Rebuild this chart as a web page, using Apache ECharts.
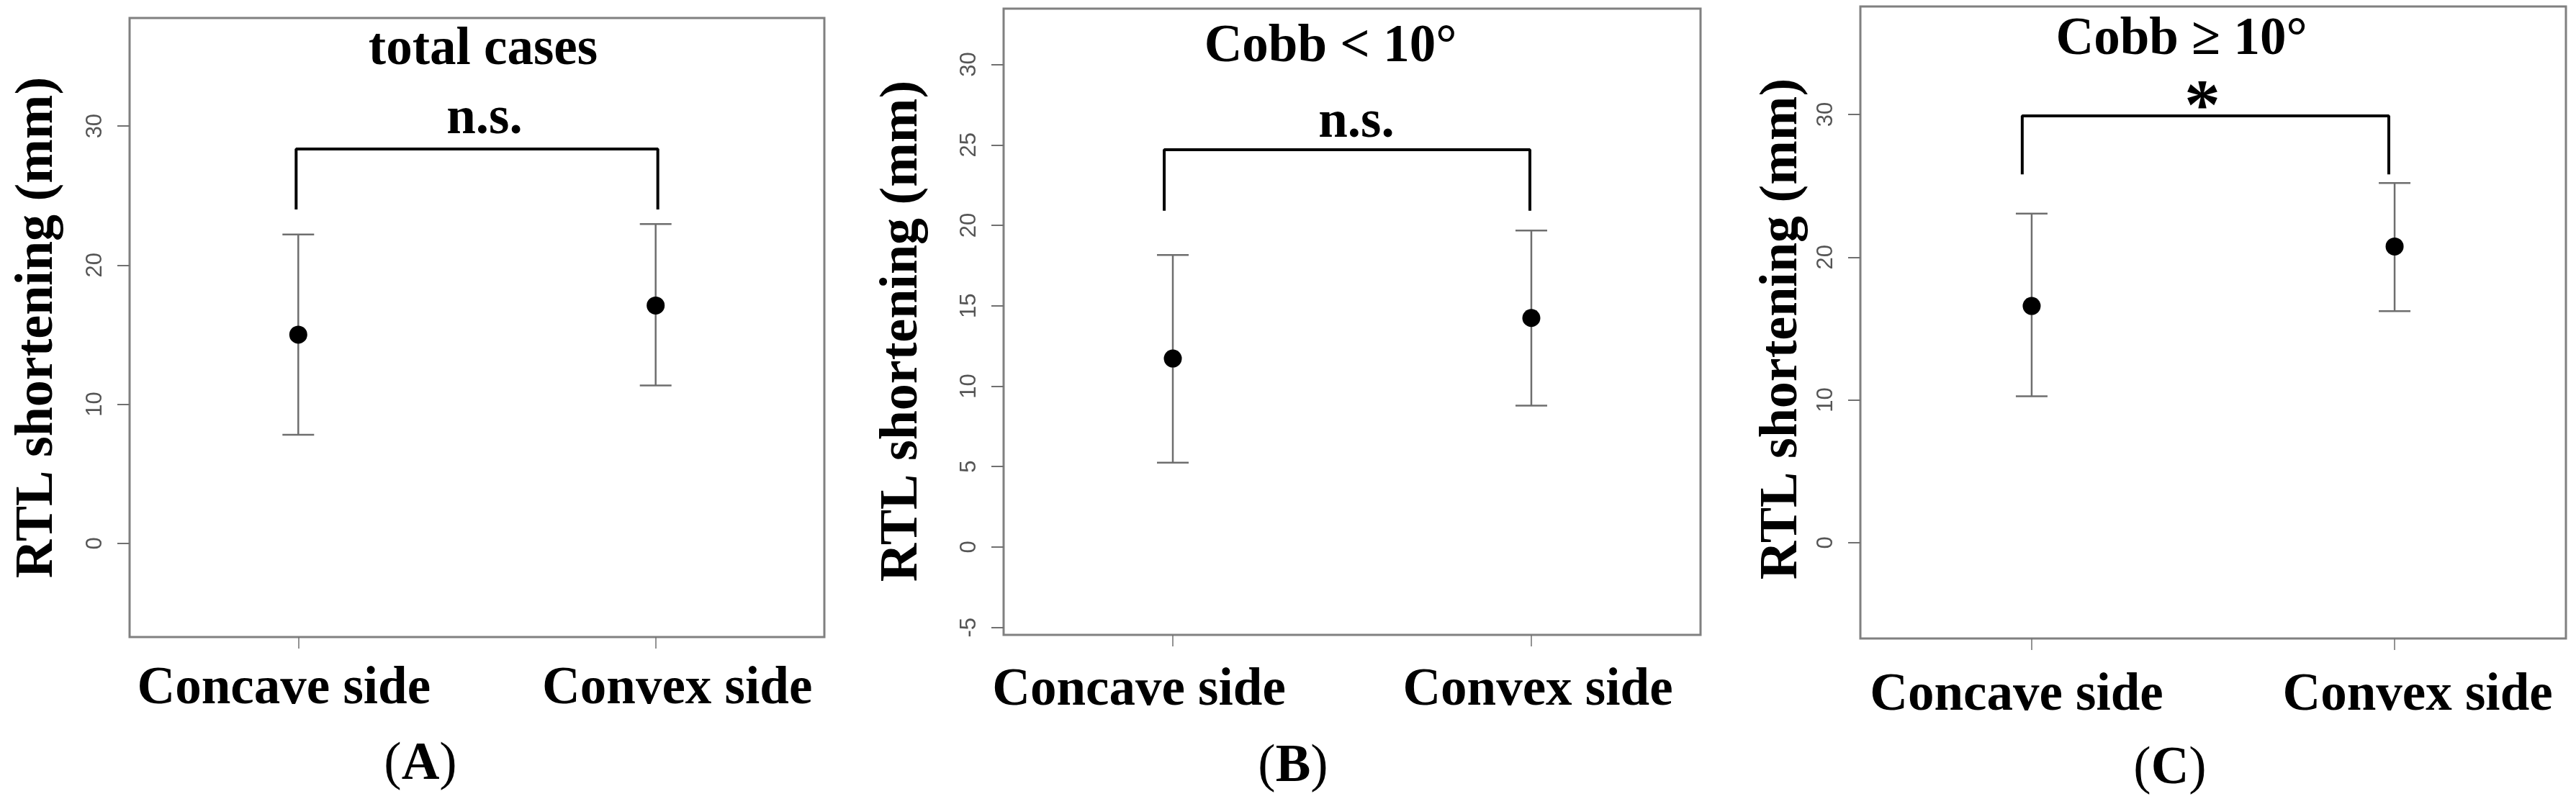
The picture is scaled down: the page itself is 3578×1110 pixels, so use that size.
<!DOCTYPE html>
<html>
<head>
<meta charset="utf-8">
<script src="https://cdn.jsdelivr.net/npm/echarts@6.0.0/dist/echarts.min.js"></script>
<style>
  html, body { margin: 0; padding: 0; background: #fff; }
  #chart { width: 3578px; height: 1110px; }
</style>
</head>
<body>
<div id="chart"></div>
<script>
// categories and their x positions (R style: xlim 0.6 - 2.4)
const categories = ['Concave side', 'Convex side'];
const xPos = [1, 2];
const panelLetters = ['A', 'B', 'C'];
const panelTitles = ['total cases', 'Cobb < 10°', 'Cobb ≥ 10°'];
const sigMarks = ['n.s.', 'n.s.', '*'];

// (A) total cases
const meanA = [15.0, 17.1];
const lowA = [7.8, 11.35];
const highA = [22.2, 22.95];
const yTicksA = [0, 10, 20, 30];
const yRangeA = [-6.74, 37.77];
const bracketXA = [0.994, 2.006];
const bracketYA = [24.1, 28.35];

// (B) Cobb < 10
const meanB = [11.72, 14.24];
const lowB = [5.25, 8.79];
const highB = [18.15, 19.68];
const yTicksB = [-5, 0, 5, 10, 15, 20, 25, 30];
const yRangeB = [-5.46, 33.47];
const bracketXB = [0.976, 1.996];
const bracketYB = [21.0, 24.7];

// (C) Cobb >= 10
const meanC = [16.58, 20.75];
const lowC = [10.26, 16.22];
const highC = [23.05, 25.2];
const yTicksC = [0, 10, 20, 30];
const yRangeC = [-6.71, 37.56];
const bracketXC = [0.974, 1.984];
const bracketYC = [25.9, 29.9];

const SERIF = "'Liberation Serif', 'Times New Roman', serif";
const SANS = "'Liberation Sans', Arial, sans-serif";

const panels = [
  { mean: meanA, low: lowA, high: highA, ticks: yTicksA, range: yRangeA, bx: bracketXA, by: bracketYA,
    grid: { left: 180, top: 25, width: 965, height: 860 }, nameGap: 127, namePad: [0, 0, 0, 0],
    labelMargin: 37, shift: [[0, 40, 0, 0], [0, 0, 0, 60]] },
  { mean: meanB, low: lowB, high: highB, ticks: yTicksB, range: yRangeB, bx: bracketXB, by: bracketYB,
    grid: { left: 1394, top: 12, width: 968, height: 870 }, nameGap: 140, namePad: [0, 26, 0, 0],
    labelMargin: 42, shift: [[0, 94, 0, 0], [0, 0, 0, 18]] },
  { mean: meanC, low: lowC, high: highC, ticks: yTicksC, range: yRangeC, bx: bracketXC, by: bracketYC,
    grid: { left: 2584, top: 9, width: 980, height: 878 }, nameGap: 108, namePad: [0, 18, 0, 0],
    labelMargin: 44, shift: [[0, 42, 0, 0], [0, 0, 0, 64]] }
];

const chart = echarts.init(document.getElementById('chart'), null, { renderer: 'canvas' });

const grid = [], xAxis = [], yAxis = [], series = [];

panels.forEach((p, i) => {
  grid.push(Object.assign({
    show: true, borderColor: '#808080', borderWidth: 3, backgroundColor: 'transparent'
  }, p.grid));

  xAxis.push({
    type: 'value', gridIndex: i, min: 0.528, max: 2.472, position: 'bottom',
    axisLine: { show: false, onZero: false },
    splitLine: { show: false },
    axisTick: { show: true, customValues: xPos, length: 16, lineStyle: { color: '#707070', width: 1.5 } },
    axisLabel: {
      show: true, customValues: xPos, margin: p.labelMargin,
      formatter: v => '{c' + xPos.indexOf(v) + '|' + categories[xPos.indexOf(v)] + '}',
      rich: {
        c0: { fontFamily: SERIF, fontWeight: 'bold', fontSize: 73, color: '#000', padding: p.shift[0] },
        c1: { fontFamily: SERIF, fontWeight: 'bold', fontSize: 73, color: '#000', padding: p.shift[1] }
      }
    }
  });

  yAxis.push({
    type: 'value', gridIndex: i, min: p.range[0], max: p.range[1], position: 'left',
    name: 'RTL shortening (mm)', nameLocation: 'middle', nameRotate: 90, nameGap: p.nameGap,
    nameTextStyle: {
      fontFamily: SERIF, fontWeight: 'bold', fontSize: 74, color: '#000',
      verticalAlign: 'middle', padding: p.namePad
    },
    axisLine: { show: false, onZero: false },
    splitLine: { show: false },
    axisTick: { show: true, customValues: p.ticks, length: 17, lineStyle: { color: '#707070', width: 2 } },
    axisLabel: {
      show: true, customValues: p.ticks, rotate: 90, margin: 32,
      fontFamily: SANS, fontSize: 31, color: '#555'
    }
  });

  // error bars
  series.push({
    type: 'custom', xAxisIndex: i, yAxisIndex: i,
    data: xPos.map((x, k) => [x, p.low[k], p.high[k]]),
    renderItem: (params, api) => {
      const lo = api.coord([api.value(0), api.value(1)]);
      const hi = api.coord([api.value(0), api.value(2)]);
      const cap = 22;
      const style = { stroke: '#6e6e6e', lineWidth: 2.5 };
      return {
        type: 'group',
        children: [
          { type: 'line', shape: { x1: lo[0], y1: lo[1], x2: hi[0], y2: hi[1] }, style },
          { type: 'line', shape: { x1: lo[0] - cap, y1: lo[1], x2: lo[0] + cap, y2: lo[1] }, style },
          { type: 'line', shape: { x1: hi[0] - cap, y1: hi[1], x2: hi[0] + cap, y2: hi[1] }, style }
        ]
      };
    },
    z: 2
  });

  // means
  series.push({
    type: 'scatter', xAxisIndex: i, yAxisIndex: i,
    data: xPos.map((x, k) => [x, p.mean[k]]),
    symbol: 'circle', symbolSize: 25,
    itemStyle: { color: '#000', opacity: 1 },
    z: 3
  });

  // significance bracket
  series.push({
    type: 'line', xAxisIndex: i, yAxisIndex: i,
    data: [[p.bx[0], p.by[0]], [p.bx[0], p.by[1]], [p.bx[1], p.by[1]], [p.bx[1], p.by[0]]],
    showSymbol: false, symbol: 'none',
    lineStyle: { color: '#000', width: 4, cap: 'square' },
    z: 4
  });
});

// titles, significance marks and panel letters
const titlePos = [[671, 70], [1848, 66], [3030, 56]];
const markPos = [[673, 166], [1884, 171], [3059, 152]];
const markSize = [73, 73, 100];
const letterPos = [[584, 1063], [1796, 1066], [3014, 1069]];

const graphic = [];
panelTitles.forEach((t, i) => {
  graphic.push({
    type: 'text', x: titlePos[i][0], y: titlePos[i][1],
    style: { text: t, fontFamily: SERIF, fontWeight: 'bold', fontSize: 73, fill: '#000',
      textAlign: 'center', textVerticalAlign: 'middle' }
  });
  graphic.push({
    type: 'text', x: markPos[i][0], y: markPos[i][1],
    style: { text: sigMarks[i], fontFamily: SERIF, fontWeight: 'bold', fontSize: markSize[i], fill: '#000',
      textAlign: 'center', textVerticalAlign: 'middle' }
  });
  graphic.push({
    type: 'text', x: letterPos[i][0], y: letterPos[i][1],
    style: {
      text: '{p|(}{l|' + panelLetters[i] + '}{p|)}',
      textAlign: 'center', textVerticalAlign: 'middle',
      rich: {
        p: { fontFamily: SERIF, fontSize: 73, fill: '#000' },
        l: { fontFamily: SERIF, fontWeight: 'bold', fontSize: 73, fill: '#000' }
      }
    }
  });
});

chart.setOption({
  animation: false,
  backgroundColor: '#fff',
  grid, xAxis, yAxis, series, graphic
});
</script>
</body>
</html>
